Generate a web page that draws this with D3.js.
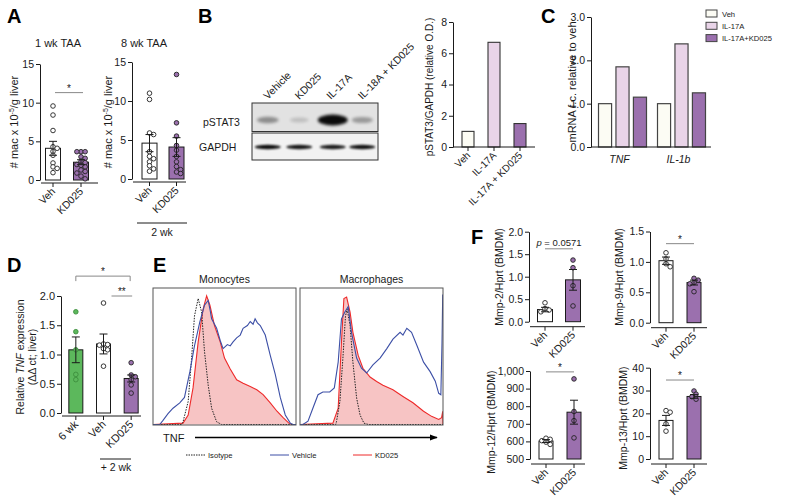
<!DOCTYPE html>
<html><head><meta charset="utf-8">
<script src="https://cdn.jsdelivr.net/npm/d3@7"></script>
<style>
body{margin:0;background:#fff}
svg{display:block;font-family:"Liberation Sans",Arial,sans-serif}
</style></head><body><svg id="c" width="787" height="503"></svg>
<script>
// ---------------- DATA ----------------
const catsVK = ["Veh", "KD025"];
const aTicks = [0, 5, 10, 15];
const a1Mean = [4.1, 2.3], a1Sem = [0.9, 0.32];
const a1VehPts = [9.57, 8.4, 6.4, 4.3, 4.1, 3.7, 3.2, 2.2, 1.7, 1.5, 0.95];
const a1KdPts = [3.66, 3.66, 3.66, 3.0, 2.8, 2.4, 2.25, 2.0, 1.9, 1.7, 1.3, 1.1, 0.9, 0.5, 0.15];
const a2Mean = [4.6, 4.1], a2Sem = [1.1, 1.2];
const a2VehPts = [11.0, 10.2, 5.9, 5.7, 3.5, 2.9, 2.6, 2.2, 1.7, 1.3, 1.0];
const a2KdPts = [13.4, 7.2, 5.5, 4.3, 3.7, 2.9, 2.2, 1.6, 1.2, 0.9, 0.7];
const aSigY = [11.3];

const blotLanes = ["Vehicle", "KD025", "IL-17A", "IL-18A + KD025"];
const pstat3Int = [0.32, 0.06, 1.0, 0.26];
const gapdhInt = [0.95, 0.9, 0.88, 0.92];

const bCats = ["Veh", "IL-17A", "IL-17A + KD025"];
const bVals = [1.0, 6.7, 1.5];
const bTicks = [0, 2, 4, 6, 8];

const cGroups = ["TNF", "IL-1b"];
const cSeries = ["Veh", "IL-17A", "IL-17A+KD025"];
const cVeh = [1.0, 1.0];
const cIL17 = [1.85, 2.38];
const cIL17KD = [1.15, 1.25];
const cTicks = [0, 1, 2, 3];

const dCats = ["6 wk", "Veh", "KD025"];
const dMean = [1.08, 1.18, 0.59], dSem = [0.22, 0.17, 0.06];
const d6Pts = [1.73, 1.39, 1.08, 0.66, 0.57];
const dVehPts = [1.88, 1.18, 1.17, 1.16, 1.10, 1.08, 0.80];
const dKdPts = [0.86, 0.65, 0.62, 0.57, 0.48, 0.34];
const dTicks = [0, 0.5, 1.0, 1.5, 2.0];

// flow histograms: [fluorescence (% of axis), count (% of max)]
const monoIso = [[0,0],[20,0],[21,2],[24.6,17],[27,49],[29,80],[31.6,93],[34,83],[36,54],[38.6,29],[41,12],[44.5,2],[48,0],[100,0]];
const monoVeh = [[0,0],[4.7,0],[7,3],[10.5,8],[14,12],[18.7,16],[22,20],[25.8,39],[29,58],[32.8,76],[36,88],[38.6,91.5],[40,84],[41,78],[44.5,71],[47,62],[49,56],[52,59],[54,58],[56,61],[58.5,64],[61,66],[63,71],[66,73],[68,76],[70,74],[71.4,78],[73,75],[75,73],[78.5,66],[82,51],[85.5,37],[89,20],[92.5,7],[96,1],[98,0],[100,0]];
const monoKD = [[0,0],[21,1],[24.6,7],[28,27],[31.6,61],[35,85],[37.5,95],[39.8,88],[43,73],[47,61],[50,49],[54,41],[58.5,33],[63,30.5],[68,28],[72.6,25.6],[77,22],[82,16],[86.7,9.8],[91,5],[95,1],[97,0],[100,0]];
const macIso = [[0,0],[25,0],[25.5,2],[27.9,17],[30,49],[31.8,80],[33,85],[35,73],[37,46],[39.6,19.5],[42,7],[44.7,1],[47.8,0],[100,0]];
const macVeh = [[0,0],[2,0],[5.6,2.4],[9,12],[12.6,22],[16,24],[20.8,24],[24,27],[26.7,46],[29,78],[31.4,83],[33.7,87],[36,68],[39.6,49],[43,41.5],[46.6,38],[51,44],[56,49],[60.7,56],[65,63],[70,68],[72,66],[74.7,71],[78,68],[81.7,58.5],[86.4,46],[91,39],[94.6,32],[97,23],[98.5,22],[99.3,60],[99.8,96]];
const macKD = [[0,0],[23,1],[26.7,12],[29,61],[30.7,93],[32.6,94],[35,83],[37,68],[40.7,51],[44,41.5],[49,35],[53.6,31.7],[58,29],[65,25.6],[72,20.7],[79,16],[86.4,9.8],[92,6],[97,3.7],[99,5],[99.8,9.8],[100,0]];
const eLegend = ["Isotype", "Vehicle", "KD025"];

const f2Mean = [0.27, 0.93], f2Sem = [0.05, 0.23];
const f2VehPts = [0.42, 0.29, 0.26, 0.22];
const f2KdPts = [1.37, 1.20, 0.80, 0.35];
const f9Mean = [1.02, 0.66], f9Sem = [0.06, 0.04];
const f9VehPts = [1.15, 1.05, 0.97, 0.92];
const f9KdPts = [0.73, 0.70, 0.66, 0.64, 0.51];
const f12Mean = [602, 766], f12Sem = [8, 68];
const f12VehPts = [618, 612, 604, 596, 583];
const f12KdPts = [955, 770, 718, 620];
const f13Mean = [16.9, 27.4], f13Sem = [2.2, 0.8];
const f13VehPts = [21.2, 20.5, 15.4, 12.2];
const f13KdPts = [29.8, 28.4, 27.3, 26.2];

// ---------------- STYLE ----------------
const PURPLE = "#9b70ae", PINK = "#e9d4e8", CREAM = "#fcfcf4", GREEN = "#5cb85c";
const BLUE = "#3c4fa6", RED = "#ee2a2a", REDFILL = "#f7c4c4";
const INK = "#1a1a1a";
const svg = d3.select("#c");

function txt(g, x, y, s, fs, opt = {}) {
  const t = g.append("text").attr("x", x).attr("y", y).attr("font-size", fs).attr("fill", opt.fill || INK)
    .attr("text-anchor", opt.anchor || "start").text(s);
  if (opt.weight) t.attr("font-weight", opt.weight);
  if (opt.italic) t.attr("font-style", "italic");
  if (opt.rot != null) t.attr("transform", `rotate(${opt.rot},${x},${y})`);
  return t;
}

function swarm(vals, y, cx, r) {
  const placed = [];
  const order = vals.map((v, i) => ({ v, y: y(v) })).sort((a, b) => b.v - a.v);
  order.forEach(p => {
    const offs = [0];
    for (let k = 1; k < 14; k++) offs.push(k * r * 0.9, -k * r * 0.9);
    for (const o of offs) {
      const x = cx + o;
      if (placed.every(q => Math.hypot(q.x - x, q.y - p.y) >= 1.65 * r)) { p.x = x; break; }
    }
    if (p.x == null) p.x = cx;
    placed.push(p);
  });
  return placed;
}

function dotPlot(p) {
  const g = svg.append("g");
  const y = d3.scaleLinear().domain(p.domain).range([p.yBottom, p.yTop]);
  const x = d3.scalePoint().domain(p.cats).range([p.xLeft, p.xRight]).padding(0.5);
  const fs = p.fs || 10.5;
  p.cats.forEach((c, i) => {
    const cx = x(c);
    g.append("rect").attr("x", cx - p.barW / 2).attr("y", y(p.means[i])).attr("width", p.barW)
      .attr("height", y(p.domain[0]) - y(p.means[i])).attr("fill", p.fills[i]).attr("stroke", INK).attr("stroke-width", 1);
  });
  p.cats.forEach((c, i) => {
    const pts = swarm(p.pts[i], y, x(c), p.r || 2.3);
    g.selectAll(null).data(pts).join("circle").attr("cx", d => d.x).attr("cy", d => d.y).attr("r", p.r || 2.3)
      .attr("fill", p.ptFills[i]).attr("stroke", p.ptStroke ? p.ptStroke[i] : "#222").attr("stroke-width", 0.9);
  });
  p.cats.forEach((c, i) => {
    const cx = x(c), cw = p.capW || 4;
    const hi = y(p.means[i] + p.sems[i]), lo = y(p.means[i] - p.sems[i]);
    g.append("line").attr("x1", cx).attr("x2", cx).attr("y1", hi).attr("y2", lo).attr("stroke", INK).attr("stroke-width", 1);
    g.append("line").attr("x1", cx - cw).attr("x2", cx + cw).attr("y1", hi).attr("y2", hi).attr("stroke", INK).attr("stroke-width", 1);
    g.append("line").attr("x1", cx - cw).attr("x2", cx + cw).attr("y1", lo).attr("y2", lo).attr("stroke", INK).attr("stroke-width", 1);
  });
  const ya = d3.axisLeft(y).tickValues(p.ticks).tickFormat(p.fmt || (d => d)).tickSize(4).tickSizeOuter(0).tickPadding(2);
  const ag = g.append("g").attr("transform", `translate(${p.xAxis},0)`).call(ya);
  ag.selectAll("text").attr("font-size", fs).attr("fill", INK).attr("font-family", "Liberation Sans, Arial, sans-serif");
  ag.selectAll("path,line").attr("stroke", INK);
  const xy = p.yBottom + (p.off || 3);
  g.append("line").attr("x1", p.xAxis + 1).attr("x2", p.xEnd).attr("y1", xy).attr("y2", xy).attr("stroke", INK);
  p.cats.forEach((c, i) => {
    g.append("line").attr("x1", x(c)).attr("x2", x(c)).attr("y1", xy).attr("y2", xy + 4).attr("stroke", INK);
    txt(g, x(c) + 3, xy + 9, p.labels ? p.labels[i] : c, fs, { anchor: "end", rot: -45 });
  });
  (p.sig || []).forEach(s => {
    const x1 = x(p.cats[s.a]) + (s.da || 0), x2 = x(p.cats[s.b]) + (s.db || 0), sy = y(s.y);
    g.append("line").attr("x1", x1).attr("x2", x2).attr("y1", sy).attr("y2", sy).attr("stroke", s.col || "#888").attr("stroke-width", 1);
    if (s.drop) {
      g.append("line").attr("x1", x1).attr("x2", x1).attr("y1", sy).attr("y2", sy + s.drop).attr("stroke", s.col || "#888");
      g.append("line").attr("x1", x2).attr("x2", x2).attr("y1", sy).attr("y2", sy + s.drop).attr("stroke", s.col || "#888");
    }
    const t = txt(g, (x1 + x2) / 2, sy - (s.text === "*" || s.text === "**" ? 1 : 3), s.text, s.fs || 10, { anchor: "middle" });
    if (s.text.startsWith("p")) { t.text(null); t.append("tspan").attr("font-style", "italic").text("p"); t.append("tspan").text(s.text.slice(1)); }
  });
  return { g, x, y };
}

// ---------------- PANEL LABELS ----------------
[["A", 7, 23], ["B", 198, 23], ["C", 541, 23], ["D", 7, 272], ["E", 153, 272], ["F", 471, 244]].forEach(d =>
  txt(svg, d[1], d[2], d[0], 20, { weight: "bold", fill: "#000" }));

// ---------------- PANEL A ----------------
txt(svg, 58, 47, "1 wk TAA", 11, { anchor: "middle" });
txt(svg, 144, 47, "8 wk TAA", 11, { anchor: "middle" });
function macLabel(x, y) {
  const t = svg.append("text").attr("transform", `translate(${x},${y}) rotate(-90)`).attr("text-anchor", "middle")
    .attr("font-size", 11).attr("fill", INK);
  t.append("tspan").text("# mac x 10");
  t.append("tspan").attr("font-size", 7).attr("dy", -4).text("-5");
  t.append("tspan").attr("dy", 4).text("/g liver");
}
macLabel(18, 122);
macLabel(112, 122);
dotPlot({ cats: catsVK, domain: [0, 15], ticks: aTicks, yBottom: 180, yTop: 64, xLeft: 39, xRight: 95, xAxis: 40, xEnd: 98,
  barW: 15, means: a1Mean, sems: a1Sem, pts: [a1VehPts, a1KdPts], fills: ["#fff", PURPLE], ptFills: ["#fff", PURPLE],
  sig: [{ a: 0, b: 1, y: aSigY[0], text: "*", da: 2, db: 2 }] });
dotPlot({ cats: catsVK, domain: [0, 15], ticks: aTicks, yBottom: 179, yTop: 62, xLeft: 136, xRight: 190, xAxis: 132, xEnd: 186,
  barW: 15, means: a2Mean, sems: a2Sem, pts: [a2VehPts, a2KdPts], fills: ["#fff", PURPLE], ptFills: ["#fff", PURPLE] });
svg.append("line").attr("x1", 137).attr("x2", 187).attr("y1", 223).attr("y2", 223).attr("stroke", INK);
txt(svg, 162, 236, "2 wk", 10.5, { anchor: "middle" });

// ---------------- PANEL B (blot) ----------------
const defs = svg.append("defs");
defs.append("filter").attr("id", "blur1").attr("x", "-50%").attr("y", "-100%").attr("width", "200%").attr("height", "300%")
  .append("feGaussianBlur").attr("stdDeviation", 1.6);
defs.append("filter").attr("id", "blur2").attr("x", "-50%").attr("y", "-100%").attr("width", "200%").attr("height", "300%")
  .append("feGaussianBlur").attr("stdDeviation", 0.9);
const lane = d3.scalePoint().domain(blotLanes).range([252, 378]).padding(0.5);
const bg = svg.append("g");
bg.append("rect").attr("x", 252).attr("y", 103).attr("width", 126).attr("height", 28.5).attr("fill", "#e2e2e2").attr("stroke", "#333");
bg.append("rect").attr("x", 252).attr("y", 133).attr("width", 126).attr("height", 27).attr("fill", "#f2f2f2").attr("stroke", "#333");
blotLanes.forEach((l, i) => {
  const cx = lane(l) + (i === 2 ? 2 : 0);
  bg.append("ellipse").attr("cx", cx).attr("cy", 120).attr("rx", 9 + 6 * pstat3Int[i]).attr("ry", 2.2 + 3.2 * pstat3Int[i])
    .attr("fill", "#000").attr("opacity", 0.1 + 0.85 * pstat3Int[i]).attr("filter", "url(#blur1)");
  bg.append("ellipse").attr("cx", cx).attr("cy", 147).attr("rx", 13).attr("ry", 2.2)
    .attr("fill", "#000").attr("opacity", gapdhInt[i]).attr("filter", "url(#blur2)");
  txt(bg, lane(l), 100, l, 10.5, { rot: -45 });
});
txt(bg, 203, 126, "pSTAT3", 10.5);
txt(bg, 199, 151, "GAPDH", 10.5);

// B bar chart
{
  const g = svg.append("g");
  const y = d3.scaleLinear().domain([0, 8]).range([147, 22]);
  const x = d3.scalePoint().domain(bCats).range([455, 533]).padding(0.5);
  const fills = [CREAM, PINK, PURPLE];
  bCats.forEach((c, i) => g.append("rect").attr("x", x(c) - 6).attr("y", y(bVals[i])).attr("width", 12)
    .attr("height", y(0) - y(bVals[i])).attr("fill", fills[i]).attr("stroke", "#333").attr("stroke-width", 1.1));
  const ag = g.append("g").attr("transform", "translate(453,0)").call(d3.axisLeft(y).tickValues(bTicks).tickSize(4).tickSizeOuter(0).tickPadding(2));
  ag.selectAll("text").attr("font-size", 10.5).attr("fill", INK);
  ag.selectAll("path,line").attr("stroke", INK);
  g.append("line").attr("x1", 453).attr("x2", 535).attr("y1", 147).attr("y2", 147).attr("stroke", INK);
  bCats.forEach(c => {
    g.append("line").attr("x1", x(c)).attr("x2", x(c)).attr("y1", 147).attr("y2", 151).attr("stroke", INK);
    txt(g, x(c) + 3, 156, c, 10, { anchor: "end", rot: -45 });
  });
  txt(g, 433, 87, "pSTAT3/GAPDH (relative O.D.)", 10, { anchor: "middle", rot: -90 });
}

// ---------------- PANEL C ----------------
{
  const g = svg.append("g");
  const y = d3.scaleLinear().domain([0, 3]).range([147, 17]);
  const x0 = d3.scaleBand().domain(cGroups).range([593, 711]);
  const x1 = d3.scaleBand().domain(cSeries).range([0, 48]).paddingInner(0.25);
  const vals = [cVeh, cIL17, cIL17KD], fills = [CREAM, PINK, PURPLE];
  cGroups.forEach((gr, gi) => cSeries.forEach((s, si) => {
    const bx = x0(gr) + (x0.bandwidth() - 48) / 2 + x1(s);
    g.append("rect").attr("x", bx).attr("y", y(vals[si][gi])).attr("width", x1.bandwidth()).attr("height", y(0) - y(vals[si][gi]))
      .attr("fill", fills[si]).attr("stroke", "#444").attr("stroke-width", 1.2);
  }));
  const ag = g.append("g").attr("transform", "translate(591,0)").call(d3.axisLeft(y).tickValues(cTicks).tickSize(4).tickSizeOuter(0).tickPadding(2));
  ag.selectAll("text").attr("font-size", 10.5).attr("fill", INK);
  ag.selectAll("path,line").attr("stroke", INK);
  g.append("line").attr("x1", 591).attr("x2", 711).attr("y1", 147).attr("y2", 147).attr("stroke", INK);
  cGroups.forEach(gr => txt(g, x0(gr) + x0.bandwidth() / 2 - 3, 163, gr, 10.5, { anchor: "middle", italic: true }));
  txt(g, 576, 82, "mRNA f.c. relative to veh", 11, { anchor: "middle", rot: -90 });
  cSeries.forEach((s, i) => {
    g.append("rect").attr("x", 706).attr("y", 10 + i * 12.3).attr("width", 11).attr("height", 7).attr("fill", fills[i]).attr("stroke", "#444");
    txt(g, 722, 16.5 + i * 12.3, s, 7.6);
  });
}

// ---------------- PANEL D ----------------
{
  dotPlot({ cats: dCats, domain: [0, 2], ticks: dTicks, fmt: d3.format(".1f"), yBottom: 413, yTop: 296,
    xLeft: 62, xRight: 145, xAxis: 61, xEnd: 141, barW: 14, fs: 11, means: dMean, sems: dSem, pts: [d6Pts, dVehPts, dKdPts],
    fills: [GREEN, "#fff", PURPLE], ptFills: [GREEN, "#fff", PURPLE], ptStroke: ["#3d8f3d", "#222", "#222"],
    sig: [{ a: 1, b: 2, y: 2.0, text: "**", da: 8, db: 1 }, { a: 0, b: 2, y: 2.34, text: "*", drop: 5, db: -1 }] });
  const t = svg.append("text").attr("transform", "translate(24,357) rotate(-90)").attr("text-anchor", "middle").attr("font-size", 10.5).attr("fill", INK);
  t.append("tspan").text("Relative ");
  t.append("tspan").attr("font-style", "italic").text("TNF");
  t.append("tspan").text(" expression");
  txt(svg, 36, 357, "(ΔΔ ct; liver)", 10.5, { anchor: "middle", rot: -90 });
  svg.append("line").attr("x1", 100).attr("x2", 131).attr("y1", 459).attr("y2", 459).attr("stroke", INK);
  txt(svg, 116, 471, "+ 2 wk", 10.5, { anchor: "middle" });
}

// ---------------- PANEL E ----------------
function histo(x0, x1, title, iso, veh, kd) {
  const g = svg.append("g");
  const x = d3.scaleLinear().domain([0, 100]).range([x0, x1]);
  const y = d3.scaleLinear().domain([0, 100]).range([424.5, 289]);
  const id = "clip" + Math.round(x0);
  defs.append("clipPath").attr("id", id).append("rect").attr("x", x0).attr("y", 288).attr("width", x1 - x0).attr("height", 137);
  const cg = g.append("g").attr("clip-path", `url(#${id})`);
  const line = d3.line().x(d => x(d[0])).y(d => y(d[1]));
  const area = d3.area().x(d => x(d[0])).y0(y(0)).y1(d => y(d[1]));
  cg.append("path").attr("d", area(kd)).attr("fill", REDFILL);
  cg.append("path").attr("d", line(kd)).attr("fill", "none").attr("stroke", RED).attr("stroke-width", 1.1);
  cg.append("path").attr("d", line(iso)).attr("fill", "none").attr("stroke", "#222").attr("stroke-width", 1).attr("stroke-dasharray", "1.5,1.2");
  cg.append("path").attr("d", line(veh)).attr("fill", "none").attr("stroke", BLUE).attr("stroke-width", 1.1);
  g.append("rect").attr("x", x0).attr("y", 288).attr("width", x1 - x0).attr("height", 137).attr("fill", "none").attr("stroke", "#555").attr("stroke-width", 1);
  txt(g, (x0 + x1) / 2, 283, title, 10.5, { anchor: "middle" });
}
histo(153, 296, "Monocytes", monoIso, monoVeh, monoKD);
histo(300, 443, "Macrophages", macIso, macVeh, macKD);
txt(svg, 163, 442, "TNF", 11);
defs.append("marker").attr("id", "arr").attr("viewBox", "0 0 10 10").attr("refX", 9).attr("refY", 5)
  .attr("markerWidth", 8).attr("markerHeight", 6).attr("orient", "auto")
  .append("path").attr("d", "M0,1 L10,5 L0,9 z").attr("fill", "#000");
svg.append("line").attr("x1", 195).attr("x2", 437).attr("y1", 437.5).attr("y2", 437.5).attr("stroke", "#000").attr("stroke-width", 1.3).attr("marker-end", "url(#arr)");
{
  const lx = [186, 270, 353], cols = ["#222", BLUE, RED];
  eLegend.forEach((s, i) => {
    const l = svg.append("line").attr("x1", lx[i]).attr("x2", lx[i] + 19).attr("y1", 455).attr("y2", 455).attr("stroke", cols[i]).attr("stroke-width", 1);
    if (i === 0) l.attr("stroke-dasharray", "1.5,1");
    txt(svg, lx[i] + 22, 458, s, 7.6);
  });
}

// ---------------- PANEL F ----------------
function fLabel(x, y, s) { txt(svg, x, y, s, 10.5, { anchor: "middle", rot: -90 }); }
dotPlot({ cats: catsVK, domain: [0, 2], ticks: [0, 0.5, 1, 1.5, 2], fmt: d3.format(".1f"), yBottom: 321.7, yTop: 231.7,
  xLeft: 531, xRight: 587, xAxis: 529, xEnd: 585, barW: 15, off: 5, means: f2Mean, sems: f2Sem, pts: [f2VehPts, f2KdPts],
  fills: ["#fff", PURPLE], ptFills: ["#fff", PURPLE], sig: [{ a: 0, b: 1, y: 1.62, text: "p = 0.0571", fs: 9.5 }] });
fLabel(503, 277, "Mmp-2/Hprt (BMDM)");
dotPlot({ cats: catsVK, domain: [0, 1.5], ticks: [0, 0.5, 1, 1.5], fmt: d3.format(".1f"), yBottom: 322.7, yTop: 231.5,
  xLeft: 652, xRight: 708, xAxis: 650, xEnd: 707, barW: 14, off: 5, means: f9Mean, sems: f9Sem, pts: [f9VehPts, f9KdPts],
  fills: ["#fff", PURPLE], ptFills: ["#fff", PURPLE], sig: [{ a: 0, b: 1, y: 1.3, text: "*" }] });
fLabel(623, 277, "Mmp-9/Hprt (BMDM)");
dotPlot({ cats: catsVK, domain: [500, 1000], ticks: [500, 600, 700, 800, 900, 1000], fmt: d3.format(","), yBottom: 459, yTop: 371,
  xLeft: 532, xRight: 588, xAxis: 530, xEnd: 585, barW: 14, off: 5, means: f12Mean, sems: f12Sem, pts: [f12VehPts, f12KdPts],
  fills: ["#fff", PURPLE], ptFills: ["#fff", PURPLE], sig: [{ a: 0, b: 1, y: 995, text: "*" }] });
fLabel(495, 422, "Mmp-12/Hprt (BMDM)");
dotPlot({ cats: catsVK, domain: [0, 40], ticks: [0, 10, 20, 30, 40], yBottom: 459, yTop: 367.7,
  xLeft: 652, xRight: 708, xAxis: 650, xEnd: 707, barW: 14, off: 5, means: f13Mean, sems: f13Sem, pts: [f13VehPts, f13KdPts],
  fills: ["#fff", PURPLE], ptFills: ["#fff", PURPLE], sig: [{ a: 0, b: 1, y: 34.6, text: "*" }] });
fLabel(627, 418, "Mmp-13/Hprt (BMDM)");
</script></body></html>
